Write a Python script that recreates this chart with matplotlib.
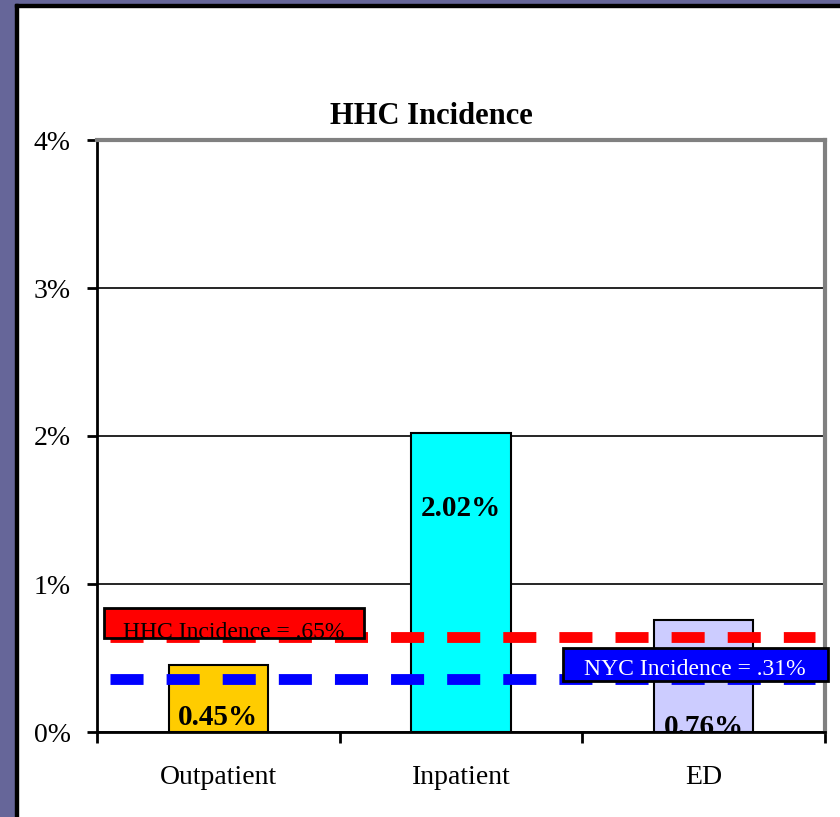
"""HHC Incidence bar chart with reference lines."""

import matplotlib
matplotlib.use("Agg")
import matplotlib.pyplot as plt
from matplotlib.patches import Rectangle

# data
categories = ["Outpatient", "Inpatient", "ED"]
incidence = [0.45, 2.02, 0.76]
bar_labels = ["0.45%", "2.02%", "0.76%"]
label_y = [0.10, 1.51, 0.03]  # where the value labels sit (data units)
bar_colors = ["#FFCC00", "#00FFFF", "#CCCCFF"]
hhc_line = 0.64
nyc_line = 0.36
hhc_label = "HHC Incidence = .65%"
nyc_label = "NYC Incidence = .31%"
y_ticks = [0, 1, 2, 3, 4]
y_ticklabels = ["0%", "1%", "2%", "3%", "4%"]

plt.rcParams["font.family"] = ["Liberation Serif", "DejaVu Serif"]
plt.rcParams["lines.scale_dashes"] = False

W, H = 840, 817
fig = plt.figure(figsize=(W / 100, H / 100), dpi=100, facecolor="white")

# slide frame: purple band on the left/top with a black edge
frame = "#666699"
fig.patches.append(Rectangle((0, 0), 15 / W, 1, transform=fig.transFigure, color=frame, zorder=0))
fig.patches.append(Rectangle((0, 1 - 4 / H), 1, 4 / H, transform=fig.transFigure, color=frame, zorder=0))
fig.patches.append(Rectangle((15 / W, 0), 3 / W, 1 - 4 / H, transform=fig.transFigure, color="black", zorder=0))
fig.patches.append(Rectangle((15 / W, 1 - 7 / H), 1, 3 / H, transform=fig.transFigure, color="black", zorder=0))

ax = fig.add_axes([97 / W, 1 - 732 / H, 728 / W, 592 / H])
ax.set_xlim(-0.5, 2.5)
ax.set_ylim(0, 4)

x = range(len(categories))
ax.bar(x, incidence, width=0.41, color=bar_colors, edgecolor="black", linewidth=1.5, zorder=3)
for xi, ly, lab in zip(x, label_y, bar_labels):
    ax.text(xi, ly, lab, ha="center", va="center", fontsize=21, fontweight="bold",
            zorder=4, clip_on=True)

# reference lines
ax.plot([-0.447, 2.46], [hhc_line, hhc_line], color="#FF0000", lw=7.8,
        dashes=(23.8, 16.6), solid_capstyle="butt", zorder=5)
ax.plot([-0.447, 2.46], [nyc_line, nyc_line], color="#0000FF", lw=7.8,
        dashes=(23.8, 16.6), solid_capstyle="butt", zorder=5)

# label boxes
ax.add_patch(Rectangle((-0.471, 0.635), 1.071, 0.203, facecolor="#FF0000", edgecolor="black",
                       lw=2, zorder=6, clip_on=False))
ax.text(0.065, 0.675, hhc_label, ha="center", va="center", fontsize=17, color="black", zorder=7)
ax.add_patch(Rectangle((1.42, 0.345), 1.092, 0.223, facecolor="#0000FF", edgecolor="black",
                       lw=2, zorder=6, clip_on=False))
ax.text(1.964, 0.42, nyc_label, ha="center", va="center", fontsize=17, color="white", zorder=7,
        clip_on=False)

ax.set_yticks(y_ticks)
ax.set_yticklabels(y_ticklabels, fontsize=20)
ax.yaxis.grid(True, color="black", lw=1.2, zorder=0)
ax.set_axisbelow(True)

ax.set_xticks([-0.5, 0.5, 1.5, 2.5])
ax.set_xticklabels([])
ax.set_xticks(list(x), minor=True)
ax.set_xticklabels(categories, minor=True, fontsize=20)
ax.tick_params(axis="x", which="minor", length=0, pad=24)
ax.tick_params(axis="x", which="major", direction="out", length=8, width=2)
ax.tick_params(axis="y", direction="out", length=7, width=2, pad=12)

for s in ("left", "bottom"):
    ax.spines[s].set_linewidth(2)
for s in ("top", "right"):
    ax.spines[s].set_color("#808080")
    ax.spines[s].set_linewidth(3)

fig.text(431 / W, 1 - 116 / H, "HHC Incidence", ha="center", va="center", fontsize=22,
         fontweight="bold")

fig.savefig("out.png", dpi=100, facecolor="white")
